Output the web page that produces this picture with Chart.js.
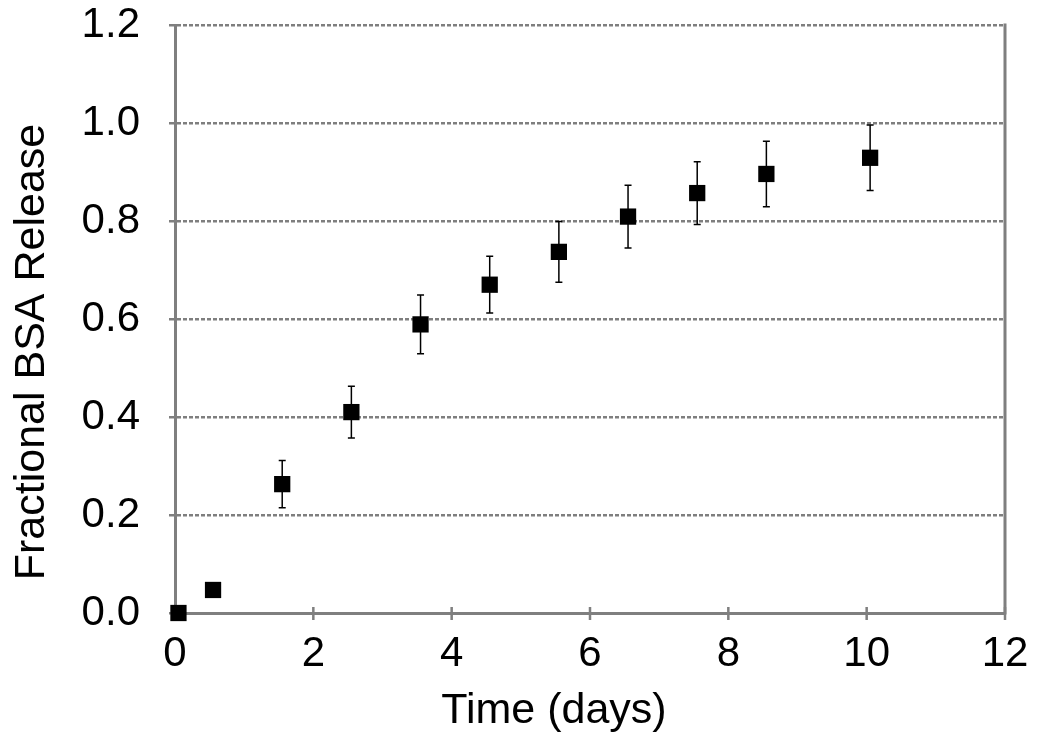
<!DOCTYPE html>
<html>
<head>
<meta charset="utf-8">
<title>Fractional BSA Release</title>
<script src="https://cdn.jsdelivr.net/npm/chart.js@4.4.1/dist/chart.umd.min.js"></script>
<style>
  html, body { margin: 0; padding: 0; background: #fff; }
  #wrap { width: 1050px; height: 749px; position: relative; }
</style>
</head>
<body>
<div id="wrap"><canvas id="release"></canvas></div>
<script>
// data
const timeDays   = [0.05, 0.55, 1.55, 2.55, 3.55, 4.55, 5.55, 6.55, 7.55, 8.55, 10.05];
const fraction   = [0.0, 0.047, 0.263, 0.41, 0.589, 0.670, 0.737, 0.809, 0.857, 0.896, 0.929];
const fractionSd = [0, 0, 0.048, 0.053, 0.06, 0.058, 0.062, 0.064, 0.064, 0.067, 0.067];
const xTicks = [0, 2, 4, 6, 8, 10, 12];
const yTicks = [0, 0.2, 0.4, 0.6, 0.8, 1.0, 1.2];

const FONT = '"Liberation Sans", Arial, sans-serif';
const AXIS_GREY = '#7f7f7f';

// right frame line, crossing x tick marks and error bars, all under the markers
const underlay = {
  id: 'underlay',
  beforeDatasetsDraw(chart) {
    const { ctx, chartArea: a, scales: { x, y } } = chart;
    ctx.save();
    ctx.strokeStyle = AXIS_GREY;
    ctx.lineWidth = 3;
    ctx.beginPath();
    ctx.moveTo(a.right, a.top - 1.5);
    ctx.lineTo(a.right, a.bottom + 1.5);
    ctx.stroke();

    ctx.lineWidth = 2.5;
    ctx.beginPath();
    xTicks.forEach(v => {
      const px = x.getPixelForValue(v);
      ctx.moveTo(px, a.bottom - 6);
      ctx.lineTo(px, a.bottom + 7);
    });
    ctx.stroke();

    ctx.strokeStyle = '#000';
    ctx.lineWidth = 1.5;
    timeDays.forEach((t, i) => {
      const sd = fractionSd[i];
      if (!sd) return;
      const px = x.getPixelForValue(t);
      const top = y.getPixelForValue(fraction[i] + sd);
      const bot = y.getPixelForValue(fraction[i] - sd);
      ctx.beginPath();
      ctx.moveTo(px, top); ctx.lineTo(px, bot);
      ctx.moveTo(px - 3.5, top); ctx.lineTo(px + 3.5, top);
      ctx.moveTo(px - 3.5, bot); ctx.lineTo(px + 3.5, bot);
      ctx.stroke();
    });
    ctx.restore();
  },
};

// axis titles
const axisTitles = {
  id: 'axisTitles',
  afterDraw(chart) {
    const { ctx } = chart;
    ctx.save();
    ctx.fillStyle = '#000';
    ctx.font = '43px ' + FONT;
    ctx.textAlign = 'center';
    ctx.textBaseline = 'alphabetic';
    ctx.fillText('Time (days)', 554, 723);

    ctx.translate(44, 352);
    ctx.rotate(-Math.PI / 2);
    ctx.fillText('Fractional BSA Release', 0, 0);
    ctx.restore();
  },
};

new Chart(document.getElementById('release'), {
  type: 'scatter',
  data: {
    datasets: [{
      label: 'BSA',
      data: timeDays.map((t, i) => ({ x: t, y: fraction[i] })),
      pointStyle: 'rect',
      pointRadius: 11.5,
      pointHoverRadius: 11.5,
      backgroundColor: '#000',
      borderColor: '#000',
      borderWidth: 0,
      clip: false,
    }],
  },
  options: {
    responsive: true,
    maintainAspectRatio: false,
    animation: false,
    layout: { padding: { top: 25, right: 45, left: 0, bottom: 0 } },
    plugins: {
      legend: { display: false },
      tooltip: { enabled: false },
    },
    scales: {
      x: {
        type: 'linear',
        min: 0,
        max: 12,
        afterBuildTicks(scale) { scale.ticks = xTicks.map(v => ({ value: v })); },
        afterFit(scale) {
          scale.height = 136;
          scale.paddingLeft = 0;
          scale.paddingRight = 0;
        },
        ticks: {
          color: '#000',
          font: { family: FONT, size: 42 },
          padding: 16,
          maxRotation: 0,
        },
        grid: { drawOnChartArea: false, drawTicks: false },
        border: { color: AXIS_GREY, width: 3 },
        title: { display: false },
      },
      y: {
        min: 0,
        max: 1.2,
        afterBuildTicks(scale) { scale.ticks = yTicks.map(v => ({ value: v })); },
        afterFit(scale) {
          scale.width = 175;
          scale.paddingTop = 0;
          scale.paddingBottom = 0;
        },
        ticks: {
          color: '#000',
          font: { family: FONT, size: 42 },
          padding: 29,
          callback: v => v.toFixed(1),
        },
        grid: {
          color: AXIS_GREY,
          lineWidth: 2.5,
          tickLength: 6,
          tickWidth: 2.5,
          tickColor: AXIS_GREY,
        },
        border: { color: AXIS_GREY, width: 3, dash: [4, 2] },
        title: { display: false },
      },
    },
  },
  plugins: [underlay, axisTitles],
});
</script>
</body>
</html>
